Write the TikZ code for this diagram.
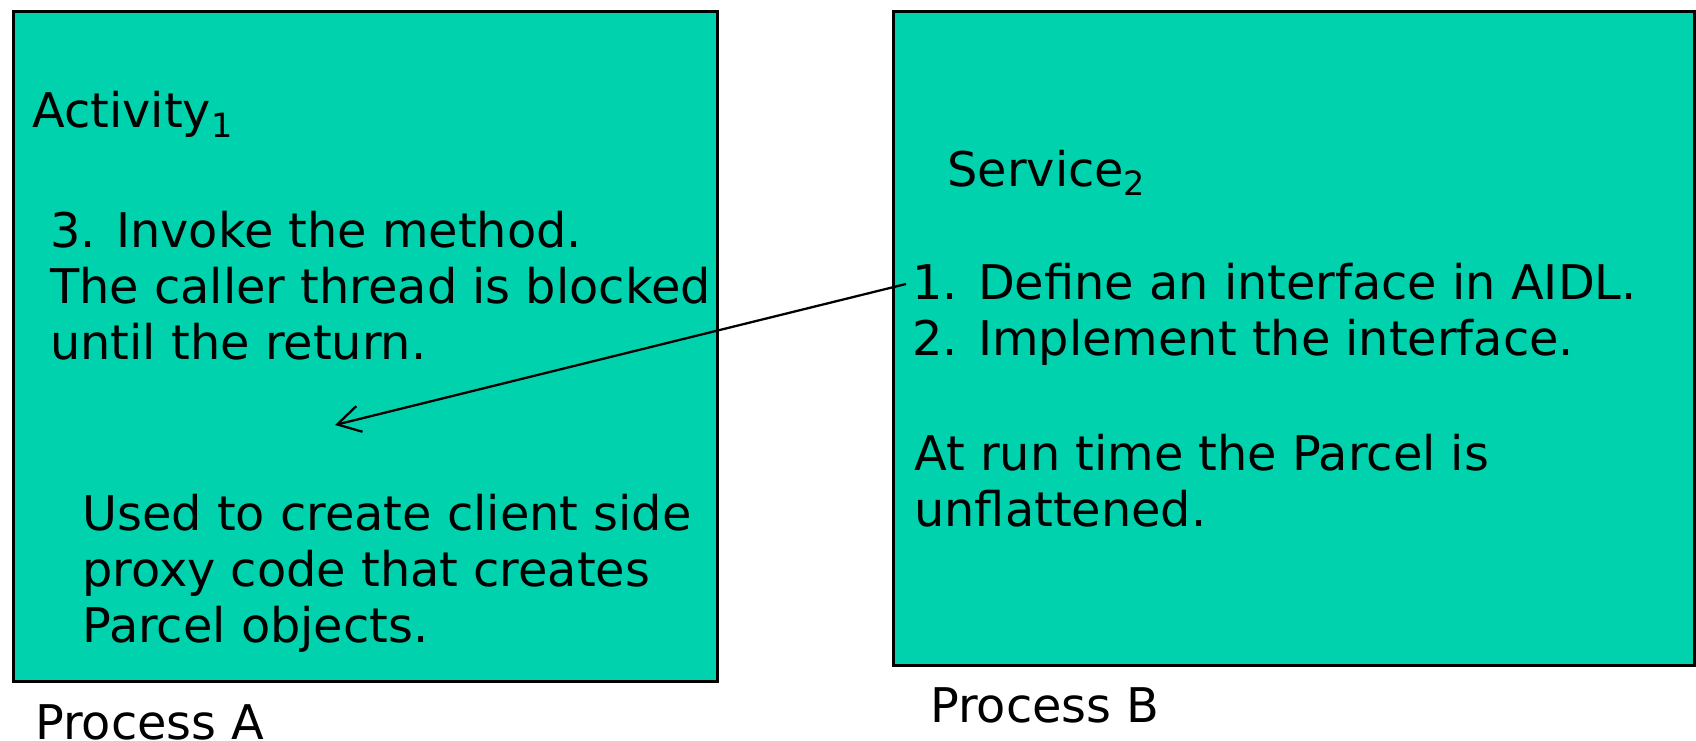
\documentclass[tikz,border=0pt]{standalone}
\usepackage{fontspec}
\setmainfont{DejaVu Sans}
\usetikzlibrary{positioning, arrows.meta}
\definecolor{procgreen}{RGB}{0,210,174}

\begin{document}
\begin{tikzpicture}[x=0.02cm, y=-0.02cm,
    process/.style={draw, line width=1.6pt, fill=procgreen, inner sep=0, anchor=north west},
    txt/.style={inner sep=0, anchor=base west, align=left, font=\fontsize{27.2}{31.75}\selectfont}]
    \useasboundingbox (0,0) rectangle (1696,740);

    % the two processes
    \node[process, minimum width=14.08cm, minimum height=13.4cm] (boxA) at (12,10) {};
    \node[process, minimum width=16.02cm, minimum height=13.08cm] (boxB) at (892,10) {};

    % process A (base of a block = its last line)
    \node[txt] (act) at (32,128) {Activity\textsubscript{1}};
    \node[txt] (invoke) at (50,359) {3. Invoke the method.\\The caller thread is blocked\\until the return.};
    \node[txt] (proxy) at (82,642) {Used to create client side\\proxy code that creates\\Parcel objects.};
    \node[txt] (procA) at (35,739) {Process A};

    % process B
    \node[txt] (serv) at (947,186) {Service\textsubscript{2}};
    \node[txt] (steps) at (912,355) {1. Define an interface in AIDL.\\2. Implement the interface.};
    \node[txt] (parcel) at (914,526) {At run time the Parcel is\\unflattened.};
    \node[txt] (procB) at (930,722) {Process B};

    \coordinate (callstart) at (906,284);
    \coordinate (callend) at (335,425);
    \draw[line width=1.3pt, -{Straight Barb[length=13pt, width=15pt, line width=1.3pt]}] (callstart) -- (callend);
\end{tikzpicture}
\end{document}
